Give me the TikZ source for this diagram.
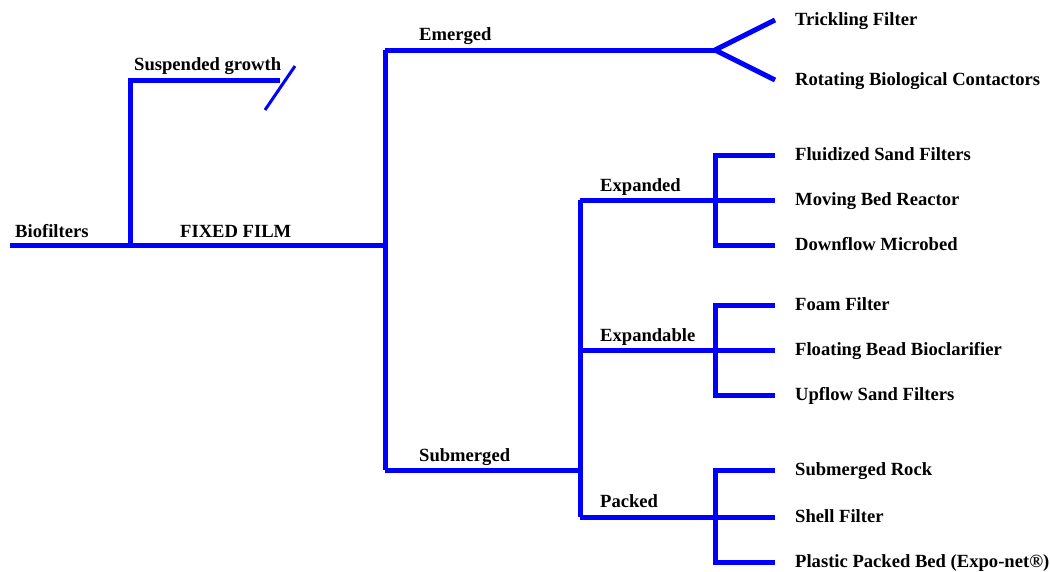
\documentclass[tikz,border=0pt]{standalone}
\usepackage{fontspec}
\setmainfont{Liberation Serif}
\tikzset{
  branch/.style={draw=blue,line width=5pt},
  lbl/.style={inner sep=0pt,anchor=base west,font=\fontsize{18.6}{20}\selectfont\bfseries},
  leaf/.style={inner sep=0pt,anchor=west,text height=14pt,text depth=3pt,font=\fontsize{18.6}{20}\selectfont\bfseries}
}
\begin{document}
\begin{tikzpicture}[x=1pt,y=-1pt]
\useasboundingbox (0,0) rectangle (1050,571);
% junctions
\coordinate (root) at (10,245);
\coordinate (split) at (130,245);
\coordinate (suspend) at (280,80);
\coordinate (fixed) at (385,245);
\coordinate (emerged) at (385,50);
\coordinate (fork) at (715,50);
\coordinate (submerged) at (385,470);
\coordinate (sub) at (580,470);
\coordinate (expanded) at (580,200);
\coordinate (packed) at (580,517);
\coordinate (expx) at (715,200);
\coordinate (expbx) at (715,350);
\coordinate (packx) at (715,517);
% labels
\node[lbl] (biof) at (15,237) {Biofilters};
\node[lbl] (susp) at (134,70) {Suspended growth};
\node[lbl] (ff) at (180,237) {FIXED FILM};
\node[lbl] (emer) at (419,40) {Emerged};
\node[lbl] (subm) at (419,461) {Submerged};
\node[lbl] (expd) at (600,191) {Expanded};
\node[lbl] (expb) at (600,341) {Expandable};
\node[lbl] (pack) at (600,507) {Packed};
% leaves
\node[leaf] (tf) at (795,20) {Trickling Filter};
\node[leaf] (rbc) at (795,80) {Rotating Biological Contactors};
\node[leaf] (fsf) at (795,155) {Fluidized Sand Filters};
\node[leaf] (mbr) at (795,200) {Moving Bed Reactor};
\node[leaf] (dm) at (795,245) {Downflow Microbed};
\node[leaf] (foam) at (795,305) {Foam Filter};
\node[leaf] (fbb) at (795,350) {Floating Bead Bioclarifier};
\node[leaf] (usf) at (795,395) {Upflow Sand Filters};
\node[leaf] (rock) at (795,470) {Submerged Rock};
\node[leaf] (shell) at (795,517) {Shell Filter};
\node[leaf] (ppb) at (795,562) {Plastic Packed Bed (Expo-net\textregistered)};
% tree
\draw[branch] (root) -- (fixed);
\draw[branch] (split) |- (suspend);
\draw[blue,line width=3pt] (265,110) -- (295,66);
\draw[branch] (emerged) -- (submerged);
\draw[branch] (emerged) -- (fork);
\draw[branch] (fork) -- ([xshift=-20pt]tf.west);
\draw[branch] (fork) -- ([xshift=-20pt]rbc.west);
\draw[branch] (submerged) -- (sub);
\draw[branch] (expanded) -- (packed);
\draw[branch] (expanded) -- ([xshift=-20pt]mbr.west);
\draw[branch] (sub |- expbx) -- ([xshift=-20pt]fbb.west);
\draw[branch] (packed) -- ([xshift=-20pt]shell.west);
\foreach \a/\b/\c in {expx/fsf/dm,expbx/foam/usf,packx/rock/ppb}{
  \draw[branch] ([xshift=-20pt]\b.west) -| (\a |- \b.west) -- (\a |- \c.west) -- ([xshift=-20pt]\c.west);
}
\end{tikzpicture}
\end{document}
